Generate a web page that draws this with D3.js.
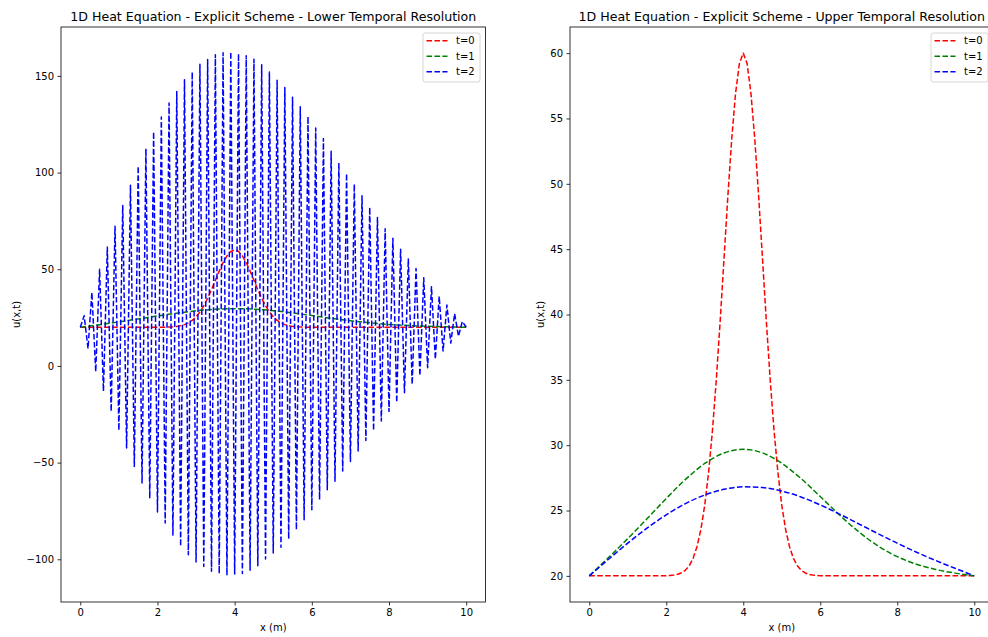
<!DOCTYPE html>
<html><head><meta charset="utf-8">
<script src="https://cdn.jsdelivr.net/npm/d3@7/dist/d3.min.js"></script>
<style>
html,body{margin:0;padding:0;background:#fff;}
svg{display:block;font-family:"DejaVu Sans",sans-serif;}
</style></head>
<body>
<svg id="chart" width="988" height="637"></svg>
<script>
// ---------------- DATA ----------------
const seriesNames = ["t=0", "t=1", "t=2"];
const xFine = [0,0.1,0.2,0.3,0.4,0.5,0.6,0.7,0.8,0.9,1,1.1,1.2,1.3,1.4,1.5,1.6,1.7,1.8,1.9,
  2,2.1,2.2,2.3,2.4,2.5,2.6,2.7,2.8,2.9,3,3.1,3.2,3.3,3.4,3.5,3.6,3.7,3.8,3.9,
  4,4.1,4.2,4.3,4.4,4.5,4.6,4.7,4.8,4.9,5,5.1,5.2,5.3,5.4,5.5,5.6,5.7,5.8,5.9,
  6,6.1,6.2,6.3,6.4,6.5,6.6,6.7,6.8,6.9,7,7.1,7.2,7.3,7.4,7.5,7.6,7.7,7.8,7.9,
  8,8.1,8.2,8.3,8.4,8.5,8.6,8.7,8.8,8.9,9,9.1,9.2,9.3,9.4,9.5,9.6,9.7,9.8,9.9,10];
const xCoarse = [0,0.5,1,1.5,2,2.5,3,3.5,4,4.5,5,5.5,6,6.5,7,7.5,8,8.5,9,9.5,10];

// initial condition (both panels)
const t0 = [20,20,20,20,20,20,20,20,20,20,20,20,20,20,20,20,20,20,20,20,
  20.01,20.03,20.06,20.12,20.24,20.44,20.79,21.36,22.25,23.56,25.41,27.92,31.12,35.01,39.47,44.26,49.05,53.41,56.92,59.21,
  60,59.21,56.92,53.41,49.05,44.26,39.47,35.01,31.12,27.92,25.41,23.56,22.25,21.36,20.79,20.44,20.24,20.12,20.06,20.03,
  20.01,20,20,20,20,20,20,20,20,20,20,20,20,20,20,20,20,20,20,20,
  20,20,20,20,20,20,20,20,20,20,20,20,20,20,20,20,20,20,20,20,20];

// lower temporal resolution
const t1Lower = [20,21.35,22.8,24.3,25.85,27.3,28.5,29.3,29.6,29.35,28.6,27.4,26.05,24.65,23.35,22.3,21.45,20.9,20.5,20.2,20];
const t2Lower = [20,26,9,38,-3,50,-13,61.5,-23.5,72.3,-33.3,83,-42.5,93.5,-52,103.3,-60.5,112.4,-68.5,121,
  -75.6,128.8,-81.3,136,-87.8,142,-93.3,148,-97.6,152,-101.4,156,-103.7,158.5,-106.2,161,-107.4,162,-108.3,162.4,
  -107.6,161.5,-107.4,160.4,-105.7,158.6,-103.3,155.8,-99.9,152,-96.8,147.7,-93.8,144,-89.5,139,-84.7,134,-79.5,129,
  -74.4,123,-69.2,117.6,-64,111,-59.7,105,-54.3,99.5,-49.4,94,-44,88,-38.6,82,-33.4,76.8,-28.5,71,
  -23.5,66,-18.8,60.4,-13.9,55.3,-9.5,50.4,-5,45.6,-0.9,41,3.5,36,7.7,31.5,11.8,27,15.4,23,20];

// upper temporal resolution
const t1Upper = [20,21.4,22.85,24.37,25.92,27.38,28.6,29.4,29.69,29.41,28.62,27.45,26.07,24.66,23.37,22.29,21.47,20.89,20.49,20.21,20];
const t2Upper = [20,21.27,22.5,23.65,24.67,25.53,26.19,26.62,26.81,26.76,26.49,26.04,25.43,24.73,23.98,23.23,22.5,21.81,21.17,20.58,20];

const xTicks = [0,2,4,6,8,10];
const yTicksLower = [-100,-50,0,50,100,150];
const yTicksUpper = [20,25,30,35,40,45,50,55,60];
const titles = ["1D Heat Equation - Explicit Scheme - Lower Temporal Resolution",
                "1D Heat Equation - Explicit Scheme - Upper Temporal Resolution"];
const xLabel = "x (m)";
const yLabel = "u(x,t)";

// ---------------- DRAW ----------------
const colors = ["#ff0000", "#008000", "#0000ff"];
const svg = d3.select("#chart");
const fmt = d3.format("d");

function panel(cfg, idx) {
  const {left, right, top, bottom, xDomain, yDomain, yTicks, series} = cfg;
  const x = d3.scaleLinear().domain(xDomain).range([left, right]);
  const y = d3.scaleLinear().domain(yDomain).range([bottom, top]);
  const g = svg.append("g");
  const clipId = "clip" + idx;
  svg.append("clipPath").attr("id", clipId).append("rect")
    .attr("x", left).attr("y", top).attr("width", right - left).attr("height", bottom - top);

  const lines = g.append("g").attr("clip-path", `url(#${clipId})`);
  series.forEach((s, i) => {
    const pts = s.xs.map((xv, j) => [xv, s.ys[j]]);
    const line = d3.line().x(d => x(d[0])).y(d => y(d[1])).curve(s.smooth ? d3.curveMonotoneX : d3.curveLinear);
    lines.append("path").datum(pts).attr("d", line)
      .attr("fill", "none").attr("stroke", colors[i]).attr("stroke-width", 1.5)
      .attr("stroke-dasharray", "5.55,2.4").attr("stroke-linejoin", "round");
  });

  // axes
  const ax = g.append("g").attr("transform", `translate(0,${bottom})`)
    .call(d3.axisBottom(x).tickValues(xTicks).tickFormat(fmt).tickSize(3.5).tickPadding(3.5));
  const ay = g.append("g").attr("transform", `translate(${left},0)`)
    .call(d3.axisLeft(y).tickValues(yTicks).tickFormat(fmt).tickSize(3.5).tickPadding(3.5));
  [ax, ay].forEach(a => {
    a.select(".domain").remove();
    a.selectAll("line").attr("stroke", "#000").attr("stroke-width", 0.8);
    a.selectAll("text").attr("fill", "#000").style("font-size", "10px").style("font-family", "DejaVu Sans");
  });

  // frame
  g.append("rect").attr("x", left).attr("y", top).attr("width", right - left).attr("height", bottom - top)
    .attr("fill", "none").attr("stroke", "#000").attr("stroke-width", 0.8);

  // title
  g.append("text").attr("x", (left + right) / 2).attr("y", top - 6).attr("text-anchor", "middle")
    .style("font-size", "12.6px").attr("fill", "#000").text(titles[idx]);
  // labels
  g.append("text").attr("x", (left + right) / 2).attr("y", 631).attr("text-anchor", "middle")
    .style("font-size", "10px").attr("fill", "#000").text(xLabel);
  g.append("text").attr("transform", `translate(${cfg.yLabelX},${(top + bottom) / 2}) rotate(-90)`)
    .attr("text-anchor", "middle").style("font-size", "10px").attr("fill", "#000").text(yLabel);

  // legend
  const lw = 57, lh = 49;
  const lx = right - 5.5 - lw, ly = top + 6;
  const leg = g.append("g");
  leg.append("rect").attr("x", lx).attr("y", ly).attr("width", lw).attr("height", lh).attr("rx", 2)
    .attr("fill", "#fff").attr("fill-opacity", 0.8).attr("stroke", "#cccccc").attr("stroke-width", 0.8);
  seriesNames.forEach((name, i) => {
    const yy = ly + 7.8 + i * 15.5;
    leg.append("line").attr("x1", lx + 3.5).attr("x2", lx + 24.5).attr("y1", yy).attr("y2", yy)
      .attr("stroke", colors[i]).attr("stroke-width", 1.5).attr("stroke-dasharray", "5.55,2.4");
    leg.append("text").attr("x", lx + 33).attr("y", yy).attr("dy", "0.35em")
      .style("font-size", "10px").attr("fill", "#000").text(name);
  });
}

panel({
  left: 61, right: 485.5, top: 27, bottom: 602,
  xDomain: [-0.5, 10.5], yDomain: [-122.1, 175.3], yTicks: yTicksLower, yLabelX: 20,
  series: [
    {xs: xFine, ys: t0, smooth: false},
    {xs: xCoarse, ys: t1Lower, smooth: true},
    {xs: xFine, ys: t2Lower, smooth: false}
  ]
}, 0);

panel({
  left: 570, right: 993.5, top: 27, bottom: 602,
  xDomain: [-0.5, 10.5], yDomain: [18, 62], yTicks: yTicksUpper, yLabelX: 543.5,
  series: [
    {xs: xFine, ys: t0, smooth: false},
    {xs: xCoarse, ys: t1Upper, smooth: true},
    {xs: xCoarse, ys: t2Upper, smooth: true}
  ]
}, 1);
</script>
</body></html>
